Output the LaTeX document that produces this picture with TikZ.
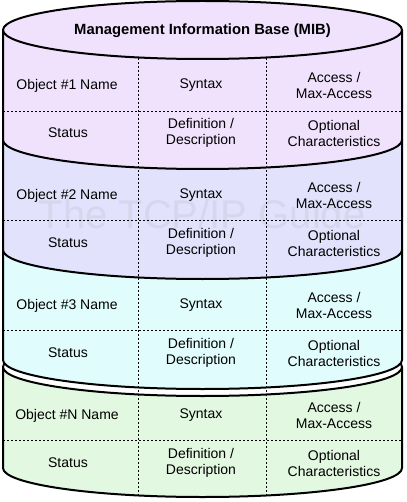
\documentclass[tikz,border=0pt]{standalone}
\usepackage{fontspec}
\setmainfont{Liberation Sans}
\definecolor{secA}{HTML}{F0E2FC}
\definecolor{secB}{HTML}{E2E2FC}
\definecolor{secC}{HTML}{E0FCFC}
\definecolor{secD}{HTML}{E2F8E0}
\definecolor{wmark}{HTML}{D6D6EE}
\begin{document}
\begin{tikzpicture}[x=1pt,y=1pt,line join=round,
  edge/.style={line width=2pt,draw=black},
  gridline/.style={line width=0.8pt,dash pattern=on 2pt off 2pt},
  cell/.style={align=center,font=\fontsize{14}{16}\selectfont,inner sep=0pt},
  titletext/.style={font=\bfseries\fontsize{14.8}{16}\selectfont,inner sep=0pt},
  ell/.style={x radius=199.5pt,y radius=29pt}]
\useasboundingbox (0,0) rectangle (406,-502);
% bottom (green) cylinder
\fill[secD] (3,-367) -- (3,-468) arc[start angle=180,end angle=360,ell] -- (402,-367)
  arc[start angle=0,end angle=-180,ell] -- cycle;
\draw[edge] (3,-367) -- (3,-468) arc[start angle=180,end angle=360,ell] -- (402,-367);
\draw[edge,fill=white] (202.5,-367) ellipse[ell];
% stacked sections
\foreach \k/\col in {2/secC,1/secB,0/secA}{
  \pgfmathsetmacro\yt{30+110*\k}
  \pgfmathsetmacro\yb{140+110*\k}
  \fill[\col] (3,-\yt) -- (3,-\yb) arc[start angle=180,end angle=360,ell] -- (402,-\yt)
    arc[start angle=0,end angle=-180,ell] -- cycle;
  \draw[edge] (3,-\yt) -- (3,-\yb) arc[start angle=180,end angle=360,ell] -- (402,-\yt);
}
\draw[edge,fill=secA] (202.5,-30) ellipse[ell];
% watermark
\node[font=\fontsize{40}{40}\selectfont,text=wmark,inner sep=0pt] (wm) at (202,-214) {The TCP/IP Guide};
% dotted grid
\foreach \y in {111,220,330,440}{
  \draw[gridline] (3,-\y) -- (402,-\y);
}
\foreach \x in {138,266}{
  \draw[gridline] (\x,-58) -- (\x,-495);
}
% texts
\node[titletext] (title) at (202.5,-30.5) {Management Information Base (MIB)};
\foreach \k/\lab in {0/1,1/2,2/3,3/N}{
  \node[cell] (name\lab) at (67,{-85.5-110*\k}) {Object \#\lab\ Name};
  \node[cell] (syn\lab) at (201,{-85.5-110*\k}) {Syntax};
  \node[cell] (acc\lab) at (334,{-85.5-110*\k}) {Access /\\Max-Access};
  \node[cell] (stat\lab) at (68,{-132.5-110*\k}) {Status};
  \node[cell] (def\lab) at (201,{-133-110*\k}) {Definition /\\Description};
  \node[cell] (opt\lab) at (334,{-133-110*\k}) {Optional\\Characteristics};
}
\end{tikzpicture}
\end{document}
